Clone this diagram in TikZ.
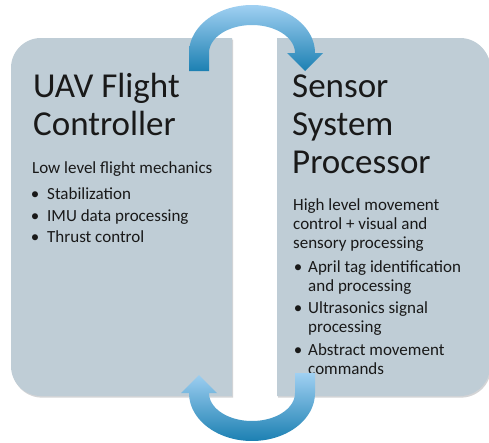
\documentclass[tikz,border=0pt]{standalone}
\usepackage{fontspec}
\setmainfont{Carlito}
\definecolor{boxfill}{RGB}{191,205,214}
\definecolor{boxshadow}{RGB}{110,115,120}
\definecolor{arrowlight}{RGB}{160,208,242}
\definecolor{arrowdark}{RGB}{28,128,178}
\definecolor{ink}{RGB}{25,25,25}
% outlines of the two panels (left: rounded on the left, right: rounded on the right)
\newcommand{\leftpanel}{(232,38) -- (41,38)
  -- plot[domain=90:180,samples=24] ({41+30*cos(\x)},{68-30*sin(\x)})
  -- (11,366)
  -- plot[domain=180:270,samples=24] ({41+30*cos(\x)},{366-30*sin(\x)})
  -- (232,396) -- cycle}
\newcommand{\rightpanel}{(277,38) -- (460,38)
  -- plot[domain=90:0,samples=24] ({460+30*cos(\x)},{68-30*sin(\x)})
  -- (490,366)
  -- plot[domain=0:-90,samples=24] ({460+30*cos(\x)},{366-30*sin(\x)})
  -- (277,396) -- cycle}
\begin{document}
\begin{tikzpicture}[x=1pt,y=-1pt,
  panel/.style={fill=boxfill},
  panelshadow/.style={fill=boxshadow,opacity=0.3,shift={(1,1.6)}},
  cyclearrow/.style={top color=arrowlight,bottom color=arrowdark,draw=none},
  heading/.style={font=\fontsize{35}{38}\selectfont,text=ink,anchor=base west,inner sep=0pt,align=left},
  bodytext/.style={font=\fontsize{17}{19}\selectfont,text=ink,anchor=base west,inner sep=0pt,align=left},
  bulletmark/.style={font=\fontsize{17}{19}\selectfont,text=ink,anchor=base,inner sep=0pt}]
\useasboundingbox[fill=white] (0,0) rectangle (489,442);

% panels
\fill[panelshadow] \leftpanel;
\fill[panelshadow] \rightpanel;
\fill[panel] \leftpanel;
\fill[panel] \rightpanel;

% left panel text (multi-line nodes sit on the baseline of their last line)
\node[heading] (lefttitle) at (33,135) {UAV Flight\\Controller};
\node[bodytext] (leftintro) at (32,173) {Low level flight mechanics};
\node[bulletmark] (lb1) at (35,199) {\textbullet};
\node[bodytext] (li1) at (47,199) {Stabilization};
\node[bulletmark] (lb2) at (35,221) {\textbullet};
\node[bodytext] (li2) at (47,221) {IMU data processing};
\node[bulletmark] (lb3) at (35,242) {\textbullet};
\node[bodytext] (li3) at (47,242) {Thrust control};

% right panel text
\node[heading] (righttitle) at (292,173) {Sensor\\System\\Processor};
\node[bodytext] (rightintro) at (293,248) {High level movement\\control + visual and\\sensory processing};
\node[bulletmark] (rb1) at (298,272) {\textbullet};
\node[bodytext] (ri1) at (308,291) {April tag identification\\and processing};
\node[bulletmark] (rb2) at (298,313) {\textbullet};
\node[bodytext] (ri2) at (308,332) {Ultrasonics signal\\processing};
\node[bulletmark] (rb3) at (298,355) {\textbullet};
\node[bodytext] (ri3) at (308,374) {Abstract movement\\commands};

% upper curved arrow: from the flight controller over to the sensor processor
\shade[cyclearrow] (189,71) -- (189,53)
  -- plot[domain=180:0,samples=48] ({252+63*cos(\x)},{53-48*sin(\x)})
  -- (323,53) -- (305,71) -- (287,53) -- (295,53)
  -- plot[domain=0:180,samples=48] ({252+43*cos(\x)},{53-28*sin(\x)})
  -- (209,71) -- cycle;

% lower curved arrow: from the sensor processor back to the flight controller
\shade[cyclearrow] (295,373) -- (315,373) -- (315,393)
  -- plot[domain=0:-180,samples=48] ({252+63*cos(\x)},{393-48*sin(\x)})
  -- (181,393) -- (199,375) -- (217,393) -- (209,393)
  -- plot[domain=-180:0,samples=48] ({252+43*cos(\x)},{393-28*sin(\x)})
  -- cycle;
\end{tikzpicture}
\end{document}
